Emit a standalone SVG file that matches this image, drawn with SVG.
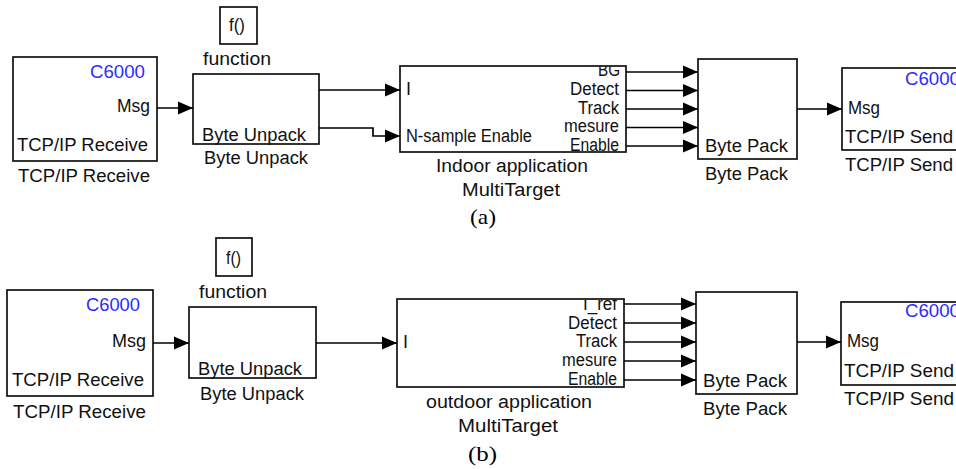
<svg xmlns="http://www.w3.org/2000/svg" width="956" height="469" viewBox="0 0 956 469">
<style>
.box{fill:#fff;stroke:#111;stroke-width:1.7}
.t{font-family:"Liberation Sans",Arial,sans-serif;font-size:18px;fill:#111}
.blue{fill:#2b2bff}
.cap{font-family:"Liberation Serif","Times New Roman",serif;font-size:21px;fill:#000}
.ln{stroke:#000;stroke-width:1.7;fill:none;marker-end:url(#ah)}
</style>
<defs>
<marker id="ah" markerUnits="userSpaceOnUse" markerWidth="16" markerHeight="14" refX="15" refY="7" orient="auto">
<path d="M0,0.5 L15,7 L0,13.5 z" fill="#000"/>
</marker>
<clipPath id="clipA"><rect x="400" y="66.5" width="226" height="90"/></clipPath>
<clipPath id="clipB"><rect x="397" y="299.5" width="227" height="92"/></clipPath>
</defs>

<!-- Diagram (a) -->
<g id="rcvA">
<rect class="box" x="13" y="57" width="144" height="104"/>
<text class="t blue" x="90" y="78" textLength="55" lengthAdjust="spacingAndGlyphs">C6000</text>
<text class="t" x="117" y="112" textLength="33" lengthAdjust="spacingAndGlyphs">Msg</text>
<text class="t" x="17" y="151" textLength="131" lengthAdjust="spacingAndGlyphs">TCP/IP Receive</text>
<text class="t" x="18" y="182" textLength="132" lengthAdjust="spacingAndGlyphs">TCP/IP Receive</text>
</g>
<g id="fnA">
<rect class="box" x="220" y="7" width="37" height="37"/>
<text class="t" x="229" y="31" textLength="16" lengthAdjust="spacingAndGlyphs">f()</text>
<text class="t" x="203" y="65" textLength="68" lengthAdjust="spacingAndGlyphs">function</text>
</g>
<g id="unpackA">
<rect class="box" x="193" y="74" width="126" height="70"/>
<text class="t" x="202" y="141" textLength="104" lengthAdjust="spacingAndGlyphs">Byte Unpack</text>
<text class="t" x="204" y="164" textLength="104" lengthAdjust="spacingAndGlyphs">Byte Unpack</text>
</g>
<g id="multiA">
<rect class="box" x="400" y="66" width="226" height="86"/>
<text class="t" x="406" y="95">I</text>
<text class="t" x="406" y="142" textLength="126" lengthAdjust="spacingAndGlyphs">N-sample Enable</text>
<text class="t" x="598" y="76" textLength="22" lengthAdjust="spacingAndGlyphs" clip-path="url(#clipA)">BG</text>
<text class="t" x="570" y="95" textLength="49" lengthAdjust="spacingAndGlyphs">Detect</text>
<text class="t" x="578" y="114" textLength="41" lengthAdjust="spacingAndGlyphs">Track</text>
<text class="t" x="564" y="132" textLength="55" lengthAdjust="spacingAndGlyphs">mesure</text>
<text class="t" x="570" y="151" textLength="49" lengthAdjust="spacingAndGlyphs">Enable</text>
<text class="t" x="436" y="172" textLength="152" lengthAdjust="spacingAndGlyphs">Indoor application</text>
<text class="t" x="462" y="196" textLength="98" lengthAdjust="spacingAndGlyphs">MultiTarget</text>
</g>
<g id="packA">
<rect class="box" x="698" y="59" width="99" height="100"/>
<text class="t" x="705" y="152" textLength="83" lengthAdjust="spacingAndGlyphs">Byte Pack</text>
<text class="t" x="705" y="180" textLength="83" lengthAdjust="spacingAndGlyphs">Byte Pack</text>
</g>
<g id="sendA">
<rect class="box" x="842" y="68" width="150" height="82"/>
<text class="t blue" x="905" y="85" textLength="55" lengthAdjust="spacingAndGlyphs">C6000</text>
<text class="t" x="848" y="114" textLength="32" lengthAdjust="spacingAndGlyphs">Msg</text>
<text class="t" x="845" y="143" textLength="108" lengthAdjust="spacingAndGlyphs">TCP/IP Send</text>
<text class="t" x="845" y="171" textLength="108" lengthAdjust="spacingAndGlyphs">TCP/IP Send</text>
</g>
<text id="capA" class="cap" x="470" y="224" textLength="26" lengthAdjust="spacingAndGlyphs">(a)</text>

<!-- Diagram (b) -->
<g id="rcvB">
<rect class="box" x="7" y="290" width="146" height="106"/>
<text class="t blue" x="86" y="311" textLength="54" lengthAdjust="spacingAndGlyphs">C6000</text>
<text class="t" x="112" y="347" textLength="34" lengthAdjust="spacingAndGlyphs">Msg</text>
<text class="t" x="12" y="386" textLength="132" lengthAdjust="spacingAndGlyphs">TCP/IP Receive</text>
<text class="t" x="13" y="418" textLength="133" lengthAdjust="spacingAndGlyphs">TCP/IP Receive</text>
</g>
<g id="fnB">
<rect class="box" x="216" y="238" width="36" height="38"/>
<text class="t" x="226" y="264" textLength="15" lengthAdjust="spacingAndGlyphs">f()</text>
<text class="t" x="199" y="298" textLength="68" lengthAdjust="spacingAndGlyphs">function</text>
</g>
<g id="unpackB">
<rect class="box" x="189" y="307" width="127" height="71"/>
<text class="t" x="198" y="375" textLength="104" lengthAdjust="spacingAndGlyphs">Byte Unpack</text>
<text class="t" x="200" y="400" textLength="104" lengthAdjust="spacingAndGlyphs">Byte Unpack</text>
</g>
<g id="multiB">
<rect class="box" x="397" y="299" width="227" height="88"/>
<text class="t" x="403" y="348">I</text>
<text class="t" x="583" y="310" textLength="34" lengthAdjust="spacingAndGlyphs" clip-path="url(#clipB)">I_ref</text>
<text class="t" x="568" y="329" textLength="49" lengthAdjust="spacingAndGlyphs">Detect</text>
<text class="t" x="576" y="347" textLength="41" lengthAdjust="spacingAndGlyphs">Track</text>
<text class="t" x="562" y="366" textLength="55" lengthAdjust="spacingAndGlyphs">mesure</text>
<text class="t" x="568" y="385" textLength="49" lengthAdjust="spacingAndGlyphs">Enable</text>
<text class="t" x="426" y="408" textLength="166" lengthAdjust="spacingAndGlyphs">outdoor application</text>
<text class="t" x="458" y="432" textLength="100" lengthAdjust="spacingAndGlyphs">MultiTarget</text>
</g>
<g id="packB">
<rect class="box" x="696" y="292" width="101" height="102"/>
<text class="t" x="703" y="387" textLength="84" lengthAdjust="spacingAndGlyphs">Byte Pack</text>
<text class="t" x="703" y="415" textLength="84" lengthAdjust="spacingAndGlyphs">Byte Pack</text>
</g>
<g id="sendB">
<rect class="box" x="841" y="302" width="150" height="83"/>
<text class="t blue" x="905" y="317" textLength="55" lengthAdjust="spacingAndGlyphs">C6000</text>
<text class="t" x="847" y="347" textLength="32" lengthAdjust="spacingAndGlyphs">Msg</text>
<text class="t" x="844" y="377" textLength="110" lengthAdjust="spacingAndGlyphs">TCP/IP Send</text>
<text class="t" x="844" y="405" textLength="110" lengthAdjust="spacingAndGlyphs">TCP/IP Send</text>
</g>
<text id="capB" class="cap" x="468" y="461" textLength="29" lengthAdjust="spacingAndGlyphs">(b)</text>

<g id="connectors">
<path class="ln" d="M157,108 H193"/>
<path class="ln" d="M319,90 H400"/>
<path class="ln" d="M319,128 H373 V136 H400"/>
<path class="ln" d="M626,72 H698"/>
<path class="ln" d="M626,90.5 H698"/>
<path class="ln" d="M626,109 H698"/>
<path class="ln" d="M626,127.5 H698"/>
<path class="ln" d="M626,146 H698"/>
<path class="ln" d="M797,109 H842"/>

<path class="ln" d="M153,343 H189"/>
<path class="ln" d="M316,343 H397"/>
<path class="ln" d="M624,304 H696"/>
<path class="ln" d="M624,323 H696"/>
<path class="ln" d="M624,342 H696"/>
<path class="ln" d="M624,361 H696"/>
<path class="ln" d="M624,380 H696"/>
<path class="ln" d="M797,342 H841"/>
</g>
</svg>
